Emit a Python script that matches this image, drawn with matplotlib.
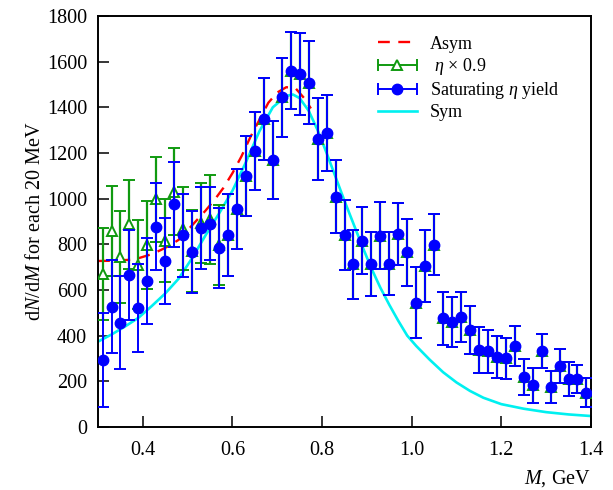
import numpy as np
import matplotlib
matplotlib.use("Agg")
import matplotlib.pyplot as plt
from matplotlib.legend_handler import HandlerErrorbar

# 20 MeV mass bins, bin centres in GeV
mass = [0.31, 0.33, 0.35, 0.37, 0.39, 0.41, 0.43, 0.45, 0.47, 0.49,
        0.51, 0.53, 0.55, 0.57, 0.59, 0.61, 0.63, 0.65, 0.67, 0.69,
        0.71, 0.73, 0.75, 0.77, 0.79, 0.81, 0.83, 0.85, 0.87, 0.89,
        0.91, 0.93, 0.95, 0.97, 0.99, 1.01, 1.03, 1.05, 1.07, 1.09,
        1.11, 1.13, 1.15, 1.17, 1.19, 1.21, 1.23, 1.25, 1.27, 1.29,
        1.31, 1.33, 1.35, 1.37, 1.39]

# saturating eta yield
sat_counts = [293, 527, 457, 664, 521, 640, 877, 726, 975, 840,
              767, 872, 890, 783, 841, 955, 1099, 1210, 1350, 1170,
              1444, 1561, 1545, 1508, 1260, 1286, 1009, 840, 713, 816,
              715, 838, 715, 844, 765, 544, 705, 799, 477, 460,
              482, 425, 337, 331, 305, 301, 355, 219, 183, 334,
              174, 267, 209, 212, 150]
sat_err = [206, 204, 203, 197, 194, 189, 190, 189, 187, 182,
           181, 178, 160, 175, 179, 176, 174, 170, 179, 172,
           174, 168, 180, 183, 179, 166, 159, 153, 151, 148,
           141, 146, 138, 136, 147, 156, 157, 133, 116, 110,
           110, 105, 99, 94, 92, 90, 88, 80, 77, 75,
           70, 74, 75, 61, 64]

# eta x 0.9
eta_counts = [670, 860, 743, 888, 710, 797, 997, 815, 1031, 869,
              770, 895, 910, 795, 841, 955, 1099, 1210, 1350, 1170,
              1444, 1561, 1545, 1508, 1260, 1286, 1009, 840, 713, 816,
              715, 838, 715, 844, 765, 544, 705, 799, 477, 460,
              482, 425, 337, 331, 305, 301, 355, 219, 183, 334,
              174, 267, 209, 212, 150]
eta_err = [200, 197, 201, 195, 195, 192, 186, 182, 189, 181,
           181, 175, 195, 175, 179, 176, 174, 170, 179, 172,
           174, 168, 180, 183, 179, 166, 159, 153, 151, 148,
           141, 146, 138, 136, 147, 156, 157, 133, 116, 110,
           110, 105, 99, 94, 92, 90, 88, 80, 77, 75,
           70, 74, 75, 61, 64]

# asymmetric fit (rising side)
asym_m = [0.30, 0.33, 0.36, 0.38, 0.40, 0.42, 0.44, 0.46, 0.48, 0.50,
          0.52, 0.54, 0.56, 0.58, 0.60, 0.62, 0.64, 0.66, 0.68, 0.70,
          0.72, 0.74, 0.76, 0.775]
asym_y = [727, 728, 731, 733, 745, 757, 775, 795, 820, 862,
          905, 948, 995, 1048, 1112, 1185, 1270, 1345, 1420, 1465,
          1488, 1485, 1440, 1395]

# symmetric fit
sym_m = [0.30, 0.33, 0.36, 0.39, 0.42, 0.45, 0.48, 0.51, 0.54, 0.57,
         0.60, 0.63, 0.66, 0.69, 0.72, 0.735, 0.75, 0.77, 0.79, 0.81,
         0.83, 0.85, 0.87, 0.89, 0.91, 0.93, 0.95, 0.97, 0.99, 1.01,
         1.04, 1.07, 1.10, 1.13, 1.16, 1.20, 1.25, 1.30, 1.35, 1.40]
sym_y = [374, 405, 440, 478, 530, 585, 650, 740, 840, 935,
         1035, 1160, 1295, 1400, 1450, 1456, 1440, 1385, 1300, 1200,
         1095, 990, 890, 790, 695, 610, 535, 465, 400, 355,
         295, 240, 195, 158, 128, 100, 80, 65, 55, 48]

plt.rcParams['font.family'] = ['Liberation Serif', 'DejaVu Serif']
plt.rcParams['mathtext.fontset'] = 'custom'
plt.rcParams['mathtext.rm'] = 'Liberation Serif'
plt.rcParams['mathtext.it'] = 'Liberation Serif:italic'

BLUE = '#0000ff'
GREEN = '#109a10'
RED = '#ff0000'
CYAN = '#00f0f0'

fig = plt.figure(figsize=(6.13, 4.90), dpi=100)
ax = fig.add_axes([0.16, 0.1286, 0.804, 0.8388])

ax.plot(sym_m, sym_y, color=CYAN, lw=1.9, zorder=2)
ax.plot(asym_m, asym_y, color=RED, lw=1.7, dashes=(5.0, 3.6), zorder=2.5)

ax.errorbar(mass, eta_counts, yerr=eta_err, fmt='^', ms=7, mfc='white',
            mec=GREEN, mew=1.4, ecolor=GREEN, elinewidth=1.6,
            capsize=4.5, capthick=1.6, zorder=3)
ax.errorbar(mass, sat_counts, yerr=sat_err, fmt='o', ms=7.5, mfc=BLUE,
            mec=BLUE, ecolor=BLUE, elinewidth=1.4, capsize=4.5,
            capthick=1.4, zorder=4)

# legend proxies (horizontal bars like in the paper)
h_asym, = ax.plot([], [], color=RED, lw=1.7, dashes=(5.0, 3.6))
h_eta = ax.errorbar([np.nan], [np.nan], xerr=[1], fmt='^', ms=7, mfc='white',
                    mec=GREEN, mew=1.4, ecolor=GREEN, elinewidth=1.4,
                    capsize=4, capthick=1.4)
h_sat = ax.errorbar([np.nan], [np.nan], xerr=[1], fmt='o', ms=7.5, mfc=BLUE,
                    mec=BLUE, ecolor=BLUE, elinewidth=1.4, capsize=4,
                    capthick=1.4)
h_sym, = ax.plot([], [], color=CYAN, lw=1.9)

ax.legend([h_asym, h_eta, h_sat, h_sym],
          ['Asym', r' $\eta$ × 0.9', r'Saturating $\eta$ yield', 'Sym'],
          handler_map={type(h_eta): HandlerErrorbar(xerr_size=1.1)},
          loc='upper left', bbox_to_anchor=(0.567, 0.952), frameon=False,
          fontsize=13, handlelength=2.2, handletextpad=0.7,
          labelspacing=0.18, borderpad=0, borderaxespad=0)

ax.set_xlim(0.3, 1.4)
ax.set_ylim(0, 1800)
ax.set_xticks([0.4, 0.6, 0.8, 1.0, 1.2, 1.4])
ax.set_yticks(range(0, 1801, 200))
ax.tick_params(direction='in', length=8, width=1.1, labelsize=14.5,
               color='black')
ax.tick_params(axis='x', pad=10)
ax.tick_params(axis='y', pad=8)
for sp in ax.spines.values():
    sp.set_linewidth(1.4)

ax.set_ylabel(r'd$N$/d$M$ for each 20 MeV', fontsize=14.5, labelpad=1)
ax.set_xlabel(r'$M$, GeV', fontsize=14.5, loc='right', labelpad=6)

fig.savefig('out.png', dpi=100)
